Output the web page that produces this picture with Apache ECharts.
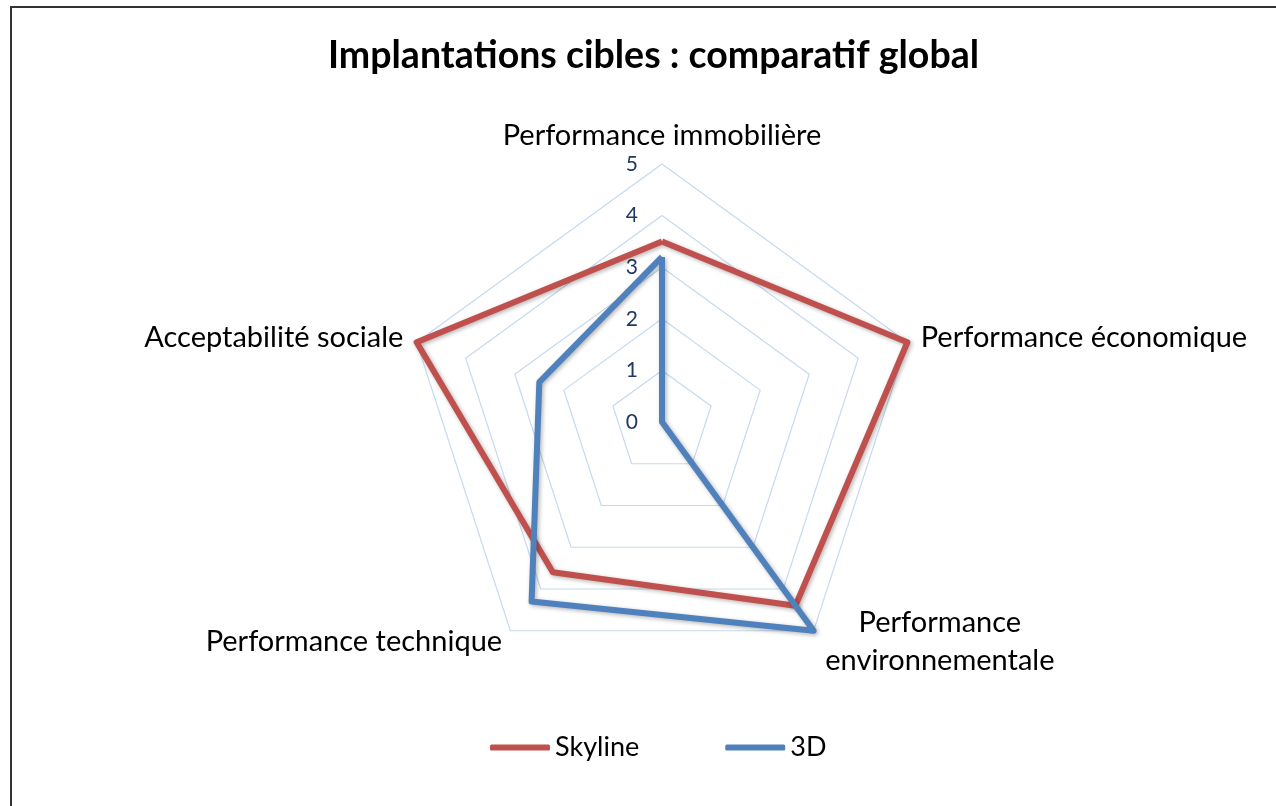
<!DOCTYPE html>
<html>
<head>
<meta charset="utf-8">
<script src="https://cdn.jsdelivr.net/npm/echarts@6/dist/echarts.min.js"></script>
<style>
html,body{margin:0;padding:0;background:#fff;overflow:hidden;}
#frame{position:absolute;left:10px;top:6px;width:1400px;height:900px;border-left:2px solid #333;border-top:2px solid #333;box-sizing:border-box;}
#chart{position:absolute;left:0;top:0;width:1276px;height:806px;}
</style>
</head>
<body>
<div id="frame"></div>
<div id="chart"></div>
<script>
// Reference order (clockwise from top)
const categories = ['Performance immobilière', 'Performance économique', 'Performance environnementale', 'Performance technique', 'Acceptabilité sociale'];
const skylineValues = [3.5, 5, 4.4, 3.6, 5];
const d3Values = [3.2, 0, 5, 4.3, 2.5];
const tickLabels = ['0', '1', '2', '3', '4', '5'];
const seriesNames = ['Skyline', '3D'];

// ECharts radar runs counter-clockwise: keep first, reverse the rest
function ccw(arr) { return [arr[0]].concat(arr.slice(1).reverse()); }

const cats = ccw(categories);
const indicators = cats.map(function (c, i) {
  const ind = { name: c, min: 0, max: 5 };
  if (i === 0) ind.axisLabel = { show: true };
  return ind;
});

const chart = echarts.init(document.getElementById('chart'));
chart.setOption({
  backgroundColor: 'transparent',
  title: {
    text: 'Implantations cibles : comparatif global',
    left: 323,
    top: 32,
    textStyle: { fontFamily: 'Lato', fontWeight: 'bold', fontSize: 37.5, color: '#000' }
  },
  legend: {
    top: 729,
    left: 485,
    itemWidth: 60,
    itemHeight: 6,
    itemGap: 86,
    textStyle: { fontFamily: 'Lato', fontSize: 27, color: '#000' },
    data: [{ name: seriesNames[0], icon: 'roundRect' }, { name: seriesNames[1], icon: 'roundRect' }]
  },
  radar: {
    center: [662, 422],
    radius: 258,
    startAngle: 90,
    splitNumber: 5,
    shape: 'polygon',
    indicator: indicators,
    nameGap: 14,
    axisName: {
      color: '#000',
      fontFamily: 'Lato',
      fontSize: 29,
      formatter: function (name) {
        if (name === 'Performance environnementale') {
          return '{env|Performance}\n{env|environnementale}';
        }
        return name;
      },
      rich: {
        env: { width: 236, align: 'center', lineHeight: 38, fontFamily: 'Lato', fontSize: 29, color: '#000' }
      }
    },
    axisLine: { show: false },
    axisTick: { show: false },
    axisLabel: {
      show: false,
      margin: 24,
      color: '#1f3864',
      fontFamily: 'Lato',
      fontSize: 21,
      formatter: function (v) { return tickLabels[Math.round(v)]; }
    },
    splitLine: { lineStyle: { color: '#c6d9f0', width: 1.2 } },
    splitArea: { show: false }
  },
  series: [{
    type: 'radar',
    symbol: 'none',
    data: [
      {
        name: seriesNames[0],
        value: ccw(skylineValues),
        lineStyle: { color: '#c0504d', width: 6, shadowBlur: 4, shadowColor: 'rgba(0,0,0,0.3)', shadowOffsetX: 1.5, shadowOffsetY: 1.5 },
        itemStyle: { color: '#c0504d' }
      },
      {
        name: seriesNames[1],
        value: ccw(d3Values),
        lineStyle: { color: '#4f81bd', width: 6, shadowBlur: 4, shadowColor: 'rgba(0,0,0,0.3)', shadowOffsetX: 1.5, shadowOffsetY: 1.5 },
        itemStyle: { color: '#4f81bd' }
      }
    ]
  }]
});
</script>
</body>
</html>
